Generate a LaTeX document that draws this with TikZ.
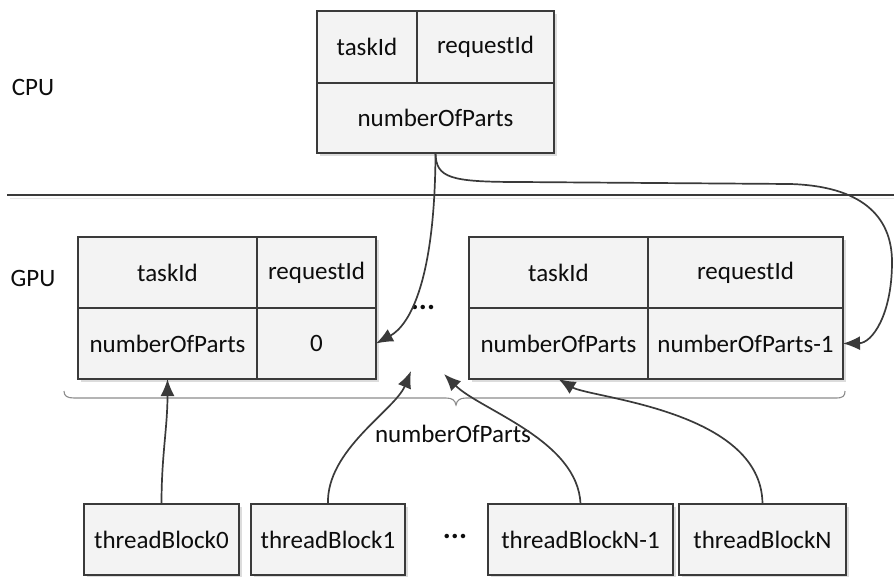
\documentclass[tikz,border=0pt]{standalone}
\usepackage{fontspec}
\setmainfont{Carlito}
\usetikzlibrary{arrows.meta,calc}

\definecolor{linec}{HTML}{3A3A3A}
\definecolor{cellfill}{HTML}{F3F3F3}
\definecolor{shadowc}{HTML}{DCDCDC}
\definecolor{bracec}{HTML}{8C8C8C}
\definecolor{textc}{HTML}{0D0D0D}

\begin{document}
\begin{tikzpicture}[x=1pt,y=-1pt,
  every node/.style={font=\fontsize{25}{29}\selectfont, text=textc},
  cell/.style={draw=linec, fill=cellfill, line width=1.3pt, inner sep=0pt, outer sep=0pt, minimum height=71pt},
  conn/.style={draw=linec, line width=1.7pt, -{Latex[length=17pt,width=14pt]}},
  plain/.style={draw=none, fill=none, inner sep=0pt},
  dots/.style={plain, font=\fontsize{30}{30}\selectfont\bfseries}
]
\useasboundingbox (0,0) rectangle (894,576);

% CPU / GPU separator
\draw[linec, line width=1.3pt] (7,195) -- (894,195);
\draw[shadowc!70, line width=1pt] (10,198) -- (894,198);

% soft shadows behind the tables and blocks
\fill[shadowc] (320,14) rectangle (557,156);
\fill[shadowc] (81,240) rectangle (379,382);
\fill[shadowc] (472,240) rectangle (846,382);
\foreach \a/\b in {84/239,251/405,488/673,679/846}
  \fill[shadowc] (\a+3,507) rectangle (\b+3,578);

% side labels
\node[plain] (cpu) at (33,87) {CPU};
\node[plain] (gpu) at (33,278) {GPU};

% CPU record
\node[cell, minimum width=100pt, minimum height=72pt] (cpuTask) at (367,47) {taskId};
\node[cell, minimum width=137pt, minimum height=72pt] (cpuReq) at (485.5,47) {requestId};
\node[cell, minimum width=237pt, minimum height=70pt] (cpuNum) at (435.5,118) {numberOfParts};

% GPU record for part 0
\node[cell, minimum width=179pt] (gTask0) at (167.5,272.5) {taskId};
\node[cell, minimum width=119pt] (gReq0) at (316.5,272.5) {requestId};
\node[cell, minimum width=179pt] (gNum0) at (167.5,343.5) {numberOfParts};
\node[cell, minimum width=119pt] (gIdx0) at (316.5,343.5) {0};

% GPU record for the last part
\node[cell, minimum width=179pt] (gTaskN) at (558.5,272.5) {taskId};
\node[cell, minimum width=195pt] (gReqN) at (745.5,272.5) {requestId};
\node[cell, minimum width=179pt] (gNumN) at (558.5,343.5) {numberOfParts};
\node[cell, minimum width=195pt] (gIdxN) at (745.5,343.5) {numberOfParts-1};

\node[dots] (dotsGpu) at (423,307) {...};

% thread blocks
\node[cell, minimum width=155pt] (tb0) at (161.5,539.5) {threadBlock0};
\node[cell, minimum width=154pt] (tb1) at (328,539.5) {threadBlock1};
\node[cell, minimum width=185pt] (tbN1) at (580.5,539.5) {threadBlockN-1};
\node[cell, minimum width=167pt] (tbN) at (762.5,539.5) {threadBlockN};
\node[dots] (dotsTb) at (455,536) {...};

% brace spanning all GPU records
\draw[bracec, line width=1.1pt]
  (64,391) .. controls (64,396) and (67,398) .. (74,398) -- (446,398)
  .. controls (452,398) and (455,400) .. (456,405)
  .. controls (457,400) and (460,398) .. (466,398) -- (836,398)
  .. controls (843,398) and (845,396) .. (845,391);
\node[plain] (braceLbl) at (453,434) {numberOfParts};

% free ends of the arrows into the elided records
\coordinate (midA) at (411,371);
\coordinate (midB) at (444,374);

% CPU record copied to the GPU records
\draw[conn] (cpuNum.south) .. controls (435,280) and (410,325) .. (gIdx0.east);
\draw[conn] (cpuNum.south) .. controls (436,178) and (450,182) .. (520,182)
  -- (790,184) .. controls (860,186) and (892,215) .. (892,262)
  .. controls (892,315) and (872,343) .. (gIdxN.east);

% thread blocks filling the GPU records
\draw[conn] (tb0.north) to[out=90,in=-90] (gNum0.south);
\draw[conn] (tb1.north) .. controls (326,450) and (395,410) .. (midA);
\draw[conn] (tbN1.north) .. controls (578,440) and (480,410) .. (midB);
\draw[conn] (tbN.north) .. controls (762,410) and (590,398) .. (gNumN.south);
\end{tikzpicture}
\end{document}
